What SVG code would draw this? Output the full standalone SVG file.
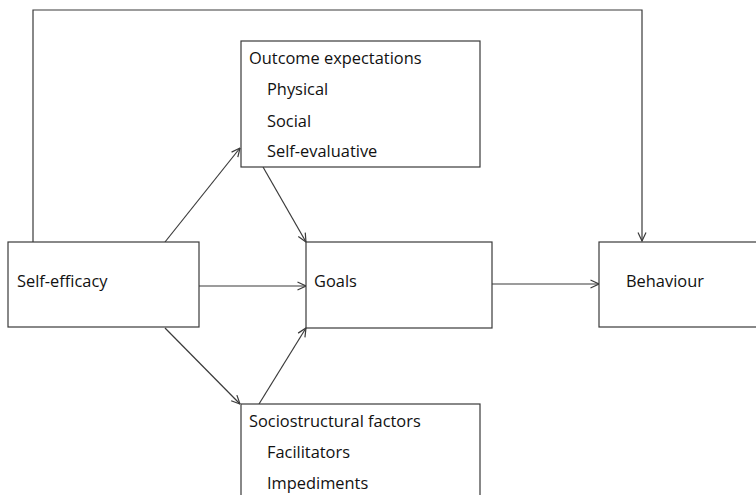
<svg xmlns="http://www.w3.org/2000/svg" width="756" height="495" viewBox="0 0 756 495">
<style>
.box{fill:#fff;stroke:#3a3a3a;stroke-width:1.2}
.t{font-family:"Open Sans","Liberation Sans",sans-serif;font-size:16.4px;fill:#111}
.c{fill:none;stroke:#3a3a3a;stroke-width:1.2}
</style>
<defs>
<marker id="ah" viewBox="0 0 10 10" refX="9.5" refY="5" markerWidth="10" markerHeight="10" markerUnits="userSpaceOnUse" orient="auto">
<path d="M1,1 L9.5,5 L1,9" fill="none" stroke="#3a3a3a" stroke-width="1.2"/>
</marker>
</defs>
<rect width="756" height="495" fill="#fff"/>
<g id="connectors">
<polyline class="c" points="33,242 33,10 642,10 642,241" marker-end="url(#ah)"/>
<line class="c" x1="165" y1="242" x2="240" y2="148" marker-end="url(#ah)"/>
<line class="c" x1="263" y1="167" x2="306" y2="242" marker-end="url(#ah)"/>
<line class="c" x1="199" y1="286" x2="306" y2="286" marker-end="url(#ah)"/>
<line class="c" x1="165" y1="328" x2="240" y2="404" marker-end="url(#ah)"/>
<line class="c" x1="259" y1="404" x2="306" y2="328" marker-end="url(#ah)"/>
<line class="c" x1="492" y1="284" x2="599" y2="284" marker-end="url(#ah)"/>
</g>
<g id="self-efficacy">
<rect class="box" x="8" y="242" width="191" height="85"/>
<text class="t" x="17" y="287">Self-efficacy</text>
</g>
<g id="outcome-expectations">
<rect class="box" x="241" y="41" width="239" height="126"/>
<text class="t" x="249" y="64">Outcome expectations</text>
<text class="t" x="267" y="95">Physical</text>
<text class="t" x="267" y="127">Social</text>
<text class="t" x="267" y="157">Self-evaluative</text>
</g>
<g id="goals">
<rect class="box" x="306" y="242" width="186" height="86"/>
<text class="t" x="314" y="287">Goals</text>
</g>
<g id="behaviour">
<rect class="box" x="599" y="242" width="160" height="85"/>
<text class="t" x="626" y="287">Behaviour</text>
</g>
<g id="sociostructural-factors">
<rect class="box" x="241" y="404" width="239" height="100"/>
<text class="t" x="249" y="427">Sociostructural factors</text>
<text class="t" x="267" y="458">Facilitators</text>
<text class="t" x="267" y="489">Impediments</text>
</g>
</svg>
